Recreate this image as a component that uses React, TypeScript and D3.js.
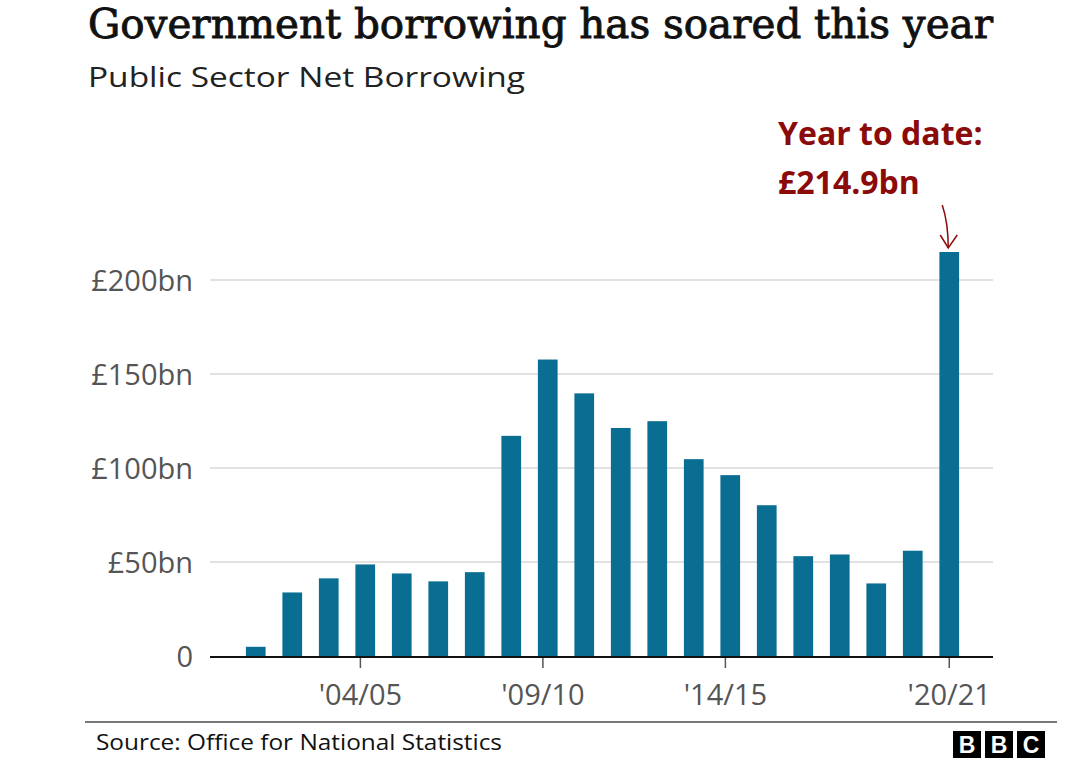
import * as d3 from "d3";
import { useEffect, useRef } from "react";

const years = [
  "01/02", "02/03", "03/04", "04/05", "05/06", "06/07", "07/08", "08/09", "09/10", "10/11",
  "11/12", "12/13", "13/14", "14/15", "15/16", "16/17", "17/18", "18/19", "19/20", "20/21",
];
const borrowing = [
  4.9, 33.8, 41.3, 48.7, 43.9, 39.7, 44.6, 117.1, 157.7, 139.7,
  121.3, 124.9, 104.7, 96.2, 80.2, 53.1, 54.0, 38.6, 56.0, 214.9,
];
const yTicks = [0, 50, 100, 150, 200];
const xTickYears = ["04/05", "09/10", "14/15", "20/21"];

const SANS = "'Open Sans', 'Noto Sans', sans-serif";

export default function App() {
  const ref = useRef<SVGSVGElement>(null);

  useEffect(() => {
    document.body.style.margin = "0";
    if (!ref.current) return;
    const svg = d3.select(ref.current);
    svg.selectAll("*").remove();

    const W = 1080;
    const H = 780;
    svg.attr("width", W).attr("height", H).attr("viewBox", `0 0 ${W} ${H}`);
    svg.append("rect").attr("width", W).attr("height", H).attr("fill", "#fff");

    const axisLeft = 210;
    const axisRight = 993;

    const x = d3
      .scaleBand<string>()
      .domain(years)
      .range([237.5, 967.5])
      .paddingInner(0.46)
      .paddingOuter(0.23);
    const y = d3.scaleLinear().domain([0, 200]).range([656, 280]);

    // title + subtitle
    svg
      .append("text")
      .attr("x", 88)
      .attr("y", 38)
      .attr("font-family", "'DejaVu Serif', serif")
      .attr("font-weight", 400)
      .attr("font-size", 41)
      .attr("fill", "#111")
      .attr("stroke", "#111")
      .attr("stroke-width", 0.9)
      .attr("textLength", 905)
      .attr("lengthAdjust", "spacingAndGlyphs")
      .text("Government borrowing has soared this year");

    svg
      .append("text")
      .attr("x", 88)
      .attr("y", 87)
      .attr("font-family", SANS)
      .attr("font-size", 28)
      .attr("fill", "#222")
      .attr("textLength", 437)
      .attr("lengthAdjust", "spacingAndGlyphs")
      .text("Public Sector Net Borrowing");

    // gridlines
    svg
      .append("g")
      .selectAll("line")
      .data(yTicks.filter(d => d > 0))
      .join("line")
      .attr("x1", axisLeft)
      .attr("x2", axisRight)
      .attr("y1", d => y(d))
      .attr("y2", d => y(d))
      .attr("stroke", "#d9d9d9")
      .attr("stroke-width", 1.5);

    // y labels
    svg
      .append("g")
      .selectAll("text")
      .data(yTicks)
      .join("text")
      .attr("x", 193)
      .attr("y", d => y(d) + 11)
      .attr("text-anchor", "end")
      .attr("font-family", SANS)
      .attr("font-size", 29)
      .attr("fill", "#555")
      .text(d => (d === 0 ? "0" : `£${d}bn`));

    // bars
    svg
      .append("g")
      .selectAll("rect")
      .data(borrowing)
      .join("rect")
      .attr("x", (_, i) => x(years[i])!)
      .attr("y", d => y(d))
      .attr("width", x.bandwidth())
      .attr("height", d => y(0) - y(d))
      .attr("fill", "#0a6d92");

    // baseline axis
    svg
      .append("line")
      .attr("x1", axisLeft)
      .attr("x2", axisRight)
      .attr("y1", y(0) + 1)
      .attr("y2", y(0) + 1)
      .attr("stroke", "#111")
      .attr("stroke-width", 2);

    // x ticks + labels (ticks sit a little left of the bar centre, except the last)
    const xt = svg
      .append("g")
      .selectAll("g")
      .data(xTickYears)
      .join("g")
      .attr("transform", (d, i) => {
        const off = i === xTickYears.length - 1 ? x.bandwidth() / 2 : 5;
        return `translate(${x(d)! + off},0)`;
      });
    xt.append("line")
      .attr("y1", y(0) + 2)
      .attr("y2", y(0) + 12)
      .attr("stroke", "#555")
      .attr("stroke-width", 1.5);
    xt.append("text")
      .attr("y", 705)
      .attr("text-anchor", "middle")
      .attr("font-family", SANS)
      .attr("font-size", 29)
      .attr("fill", "#555")
      .text(d => `'${d}`);

    // annotation
    const red = "#8b0a0a";
    const ann = svg
      .append("g")
      .attr("font-family", SANS)
      .attr("font-weight", 700)
      .attr("font-size", 32)
      .attr("fill", red);
    ann.append("text").attr("x", 778).attr("y", 145).text("Year to date:");
    ann.append("text").attr("x", 778).attr("y", 194).text(`£${borrowing[borrowing.length - 1]}bn`);

    const last = years[years.length - 1];
    const cx = x(last)! + x.bandwidth() / 2;
    const tipY = y(borrowing[borrowing.length - 1]) - 4;
    svg
      .append("path")
      .attr("d", `M${cx - 7},${tipY - 43} Q${cx - 1},${tipY - 25} ${cx - 1},${tipY}`)
      .attr("fill", "none")
      .attr("stroke", red)
      .attr("stroke-width", 1.5);
    svg
      .append("path")
      .attr("d", `M${cx - 9},${tipY - 13} L${cx - 1},${tipY} L${cx + 8},${tipY - 13}`)
      .attr("fill", "none")
      .attr("stroke", red)
      .attr("stroke-width", 1.5);

    // footer
    svg
      .append("line")
      .attr("x1", 85)
      .attr("x2", 1057)
      .attr("y1", 722)
      .attr("y2", 722)
      .attr("stroke", "#777")
      .attr("stroke-width", 2);
    svg
      .append("text")
      .attr("x", 96)
      .attr("y", 750)
      .attr("font-family", SANS)
      .attr("font-size", 21)
      .attr("fill", "#111")
      .attr("textLength", 406)
      .attr("lengthAdjust", "spacingAndGlyphs")
      .text("Source: Office for National Statistics");

    const logo = svg
      .append("g")
      .selectAll("g")
      .data(["B", "B", "C"])
      .join("g")
      .attr("transform", (_, i) => `translate(${953 + i * 32},731)`);
    logo.append("rect").attr("width", 28).attr("height", 27).attr("fill", "#000");
    logo
      .append("text")
      .attr("x", 14)
      .attr("y", 22)
      .attr("text-anchor", "middle")
      .attr("font-family", "'Liberation Sans', Arial, sans-serif")
      .attr("font-weight", 700)
      .attr("font-size", 23)
      .attr("fill", "#fff")
      .text(d => d);
  }, []);

  return <svg ref={ref} style={{ display: "block" }} />;
}
